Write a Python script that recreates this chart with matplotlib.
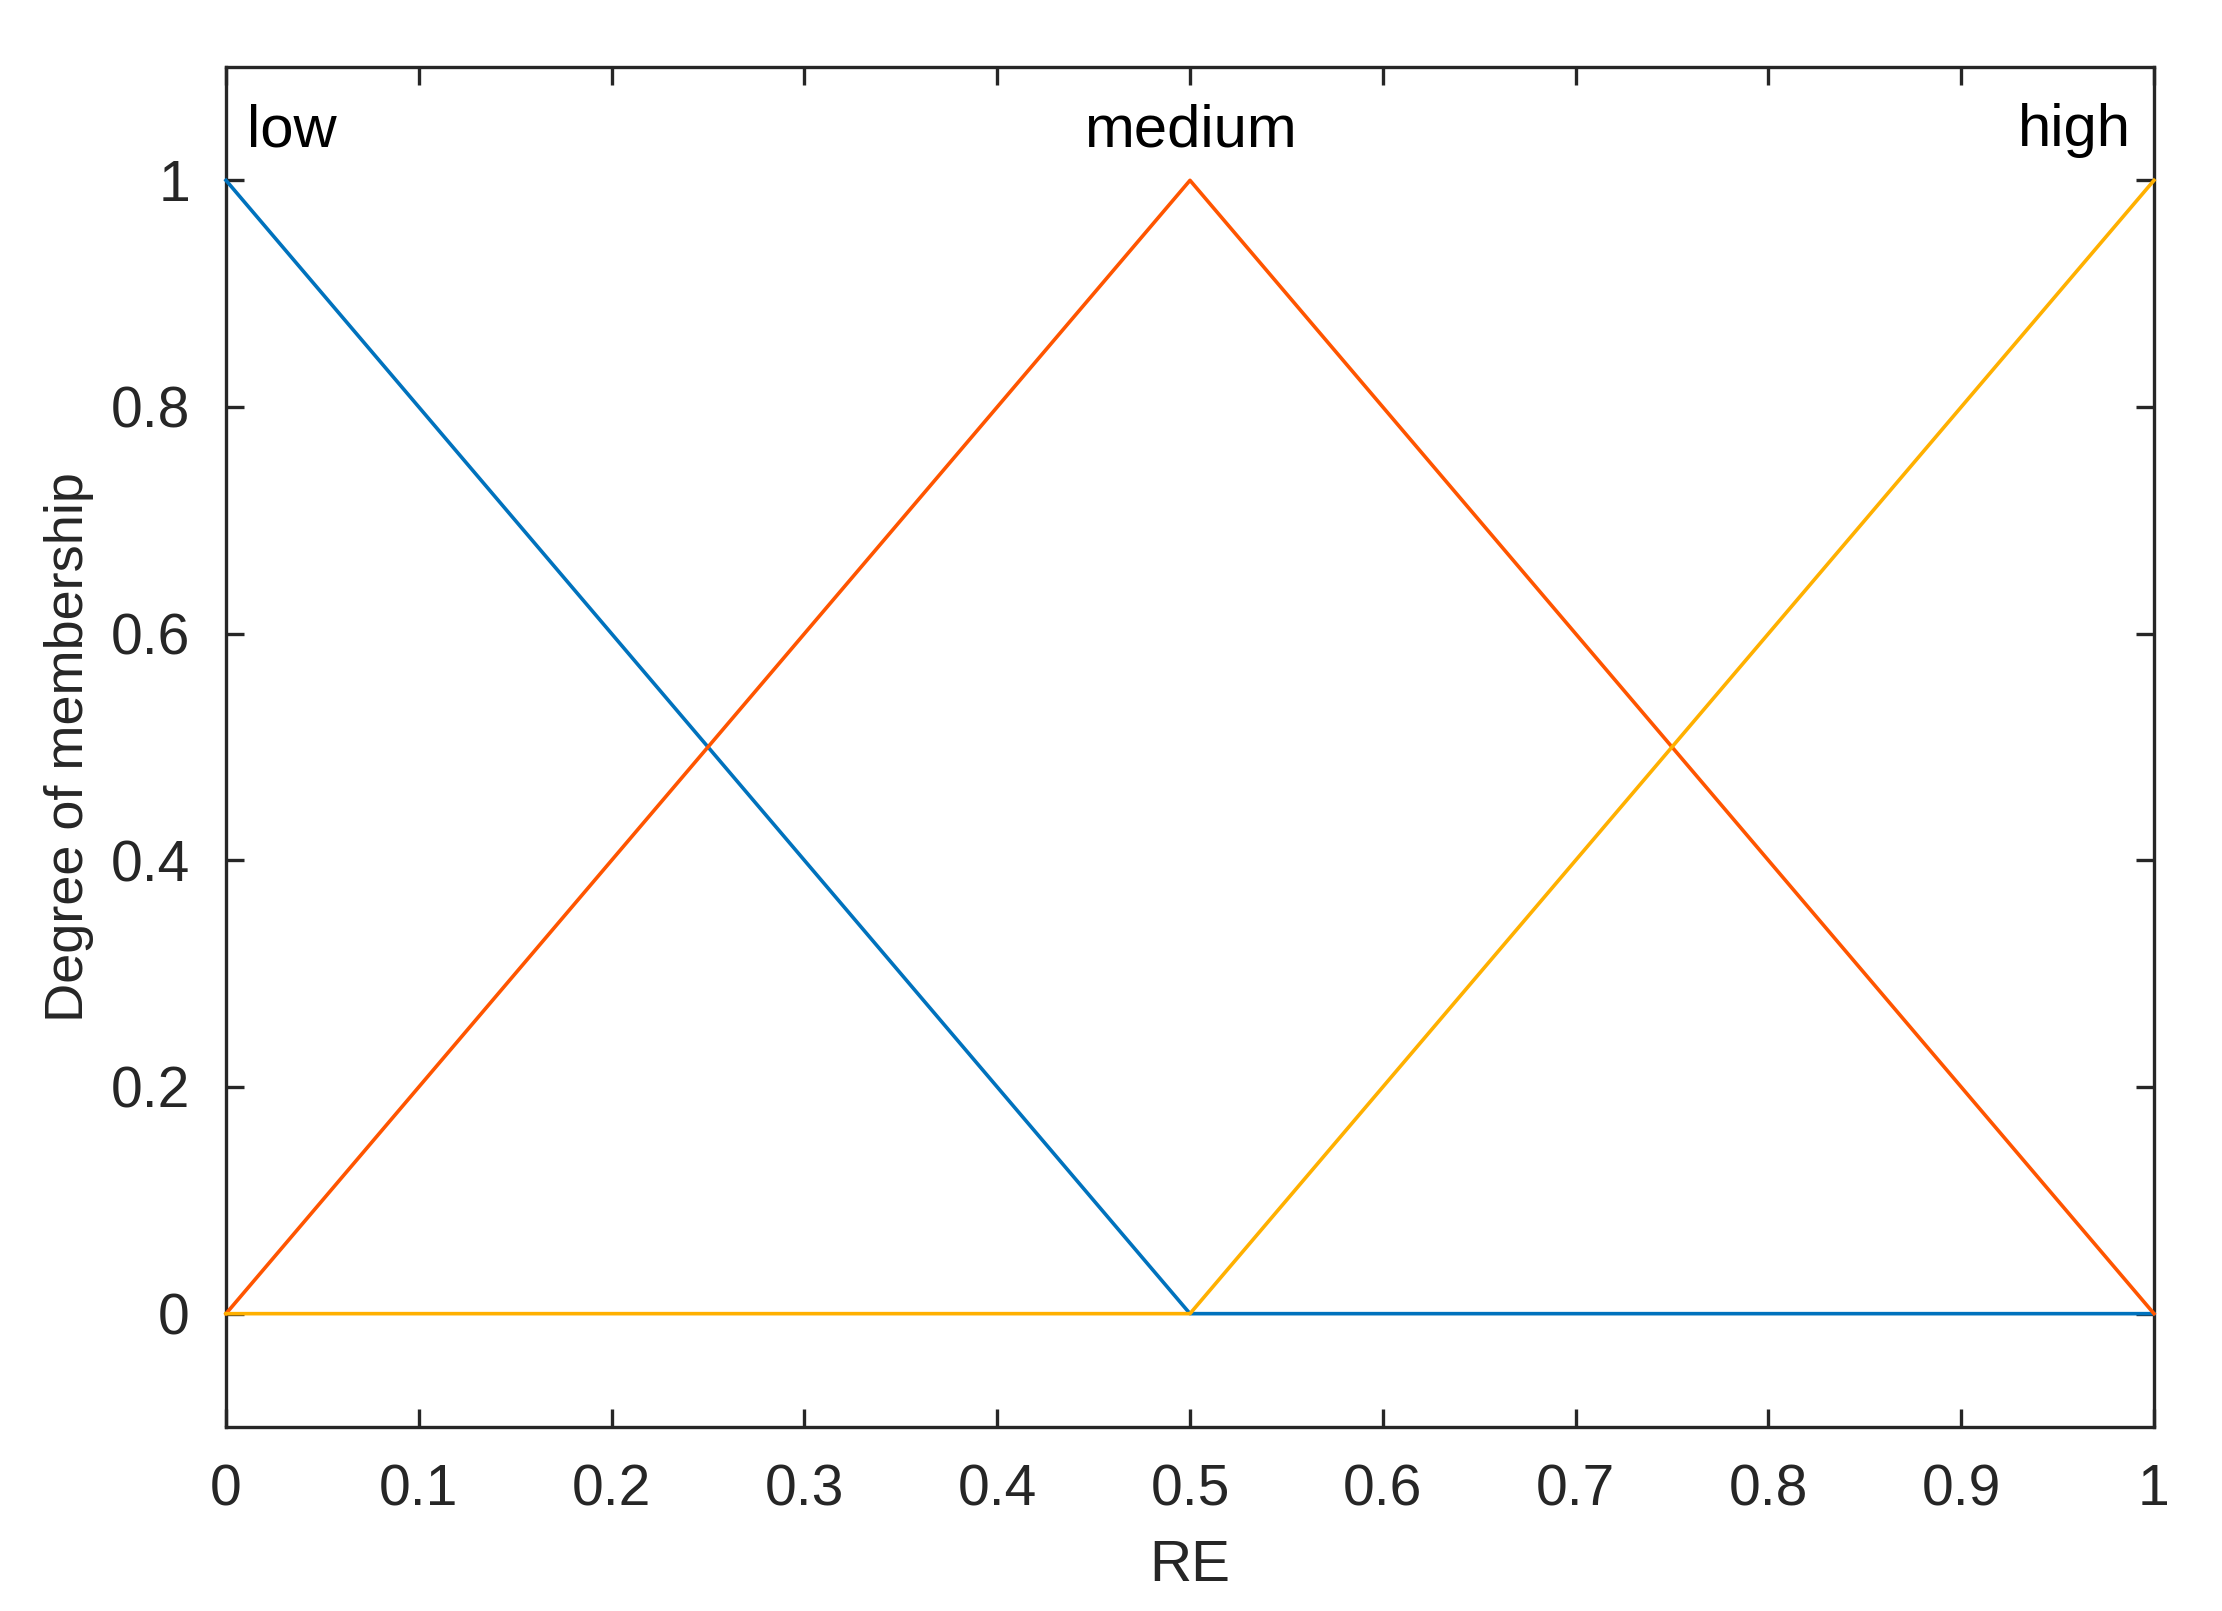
import matplotlib.pyplot as plt

# Funciones de pertenencia triangulares (puntos de quiebre)
x_puntos = [0.0, 0.5, 1.0]
mf_low = [1.0, 0.0, 0.0]
mf_medium = [0.0, 1.0, 0.0]
mf_high = [0.0, 0.0, 1.0]
nombres = ['low', 'medium', 'high']
pos_etiquetas = [0.011, 0.5, 0.988]
y_etiqueta = 1.03

x_ticks = [0, 0.1, 0.2, 0.3, 0.4, 0.5, 0.6, 0.7, 0.8, 0.9, 1]
x_tick_labels = ['0', '0.1', '0.2', '0.3', '0.4', '0.5', '0.6', '0.7', '0.8', '0.9', '1']
y_ticks = [0, 0.2, 0.4, 0.6, 0.8, 1]
y_tick_labels = ['0', '0.2', '0.4', '0.6', '0.8', '1']

plt.rcParams['font.family'] = ['Liberation Sans', 'DejaVu Sans']

fig = plt.figure(figsize=(11.11, 8.055), dpi=200)
ax = fig.add_axes([226 / 2222, 1 - 1427 / 1611, 1928 / 2222, 1360 / 1611])

colores = ['#0072BD', '#FF5500', '#FFB000']
for datos, color in zip([mf_low, mf_medium, mf_high], colores):
    ax.plot(x_puntos, datos, color=color, lw=1.3, clip_on=False, zorder=3)

# Etiquetas de cada conjunto difuso
alineaciones = ['left', 'center', 'right']
for nombre, xp, ha in zip(nombres, pos_etiquetas, alineaciones):
    ax.text(xp, y_etiqueta, nombre, ha=ha, va='baseline', fontsize=21.5, color='black')

ax.set_xlim(0, 1)
ax.set_ylim(-0.1, 1.1)
ax.set_xticks(x_ticks)
ax.set_xticklabels(x_tick_labels)
ax.set_yticks(y_ticks)
ax.set_yticklabels(y_tick_labels)
ax.tick_params(direction='in', length=6.5, width=1.2, labelsize=20.5, colors='#262626',
               top=True, right=True, pad=13)
for spine in ax.spines.values():
    spine.set_linewidth(1.2)
    spine.set_color('#262626')

ax.set_xlabel('RE', fontsize=21, color='#262626', labelpad=8)
ax.set_ylabel('Degree of membership', fontsize=19.5, color='#262626', labelpad=6)

fig.savefig('out.png', dpi=200)
